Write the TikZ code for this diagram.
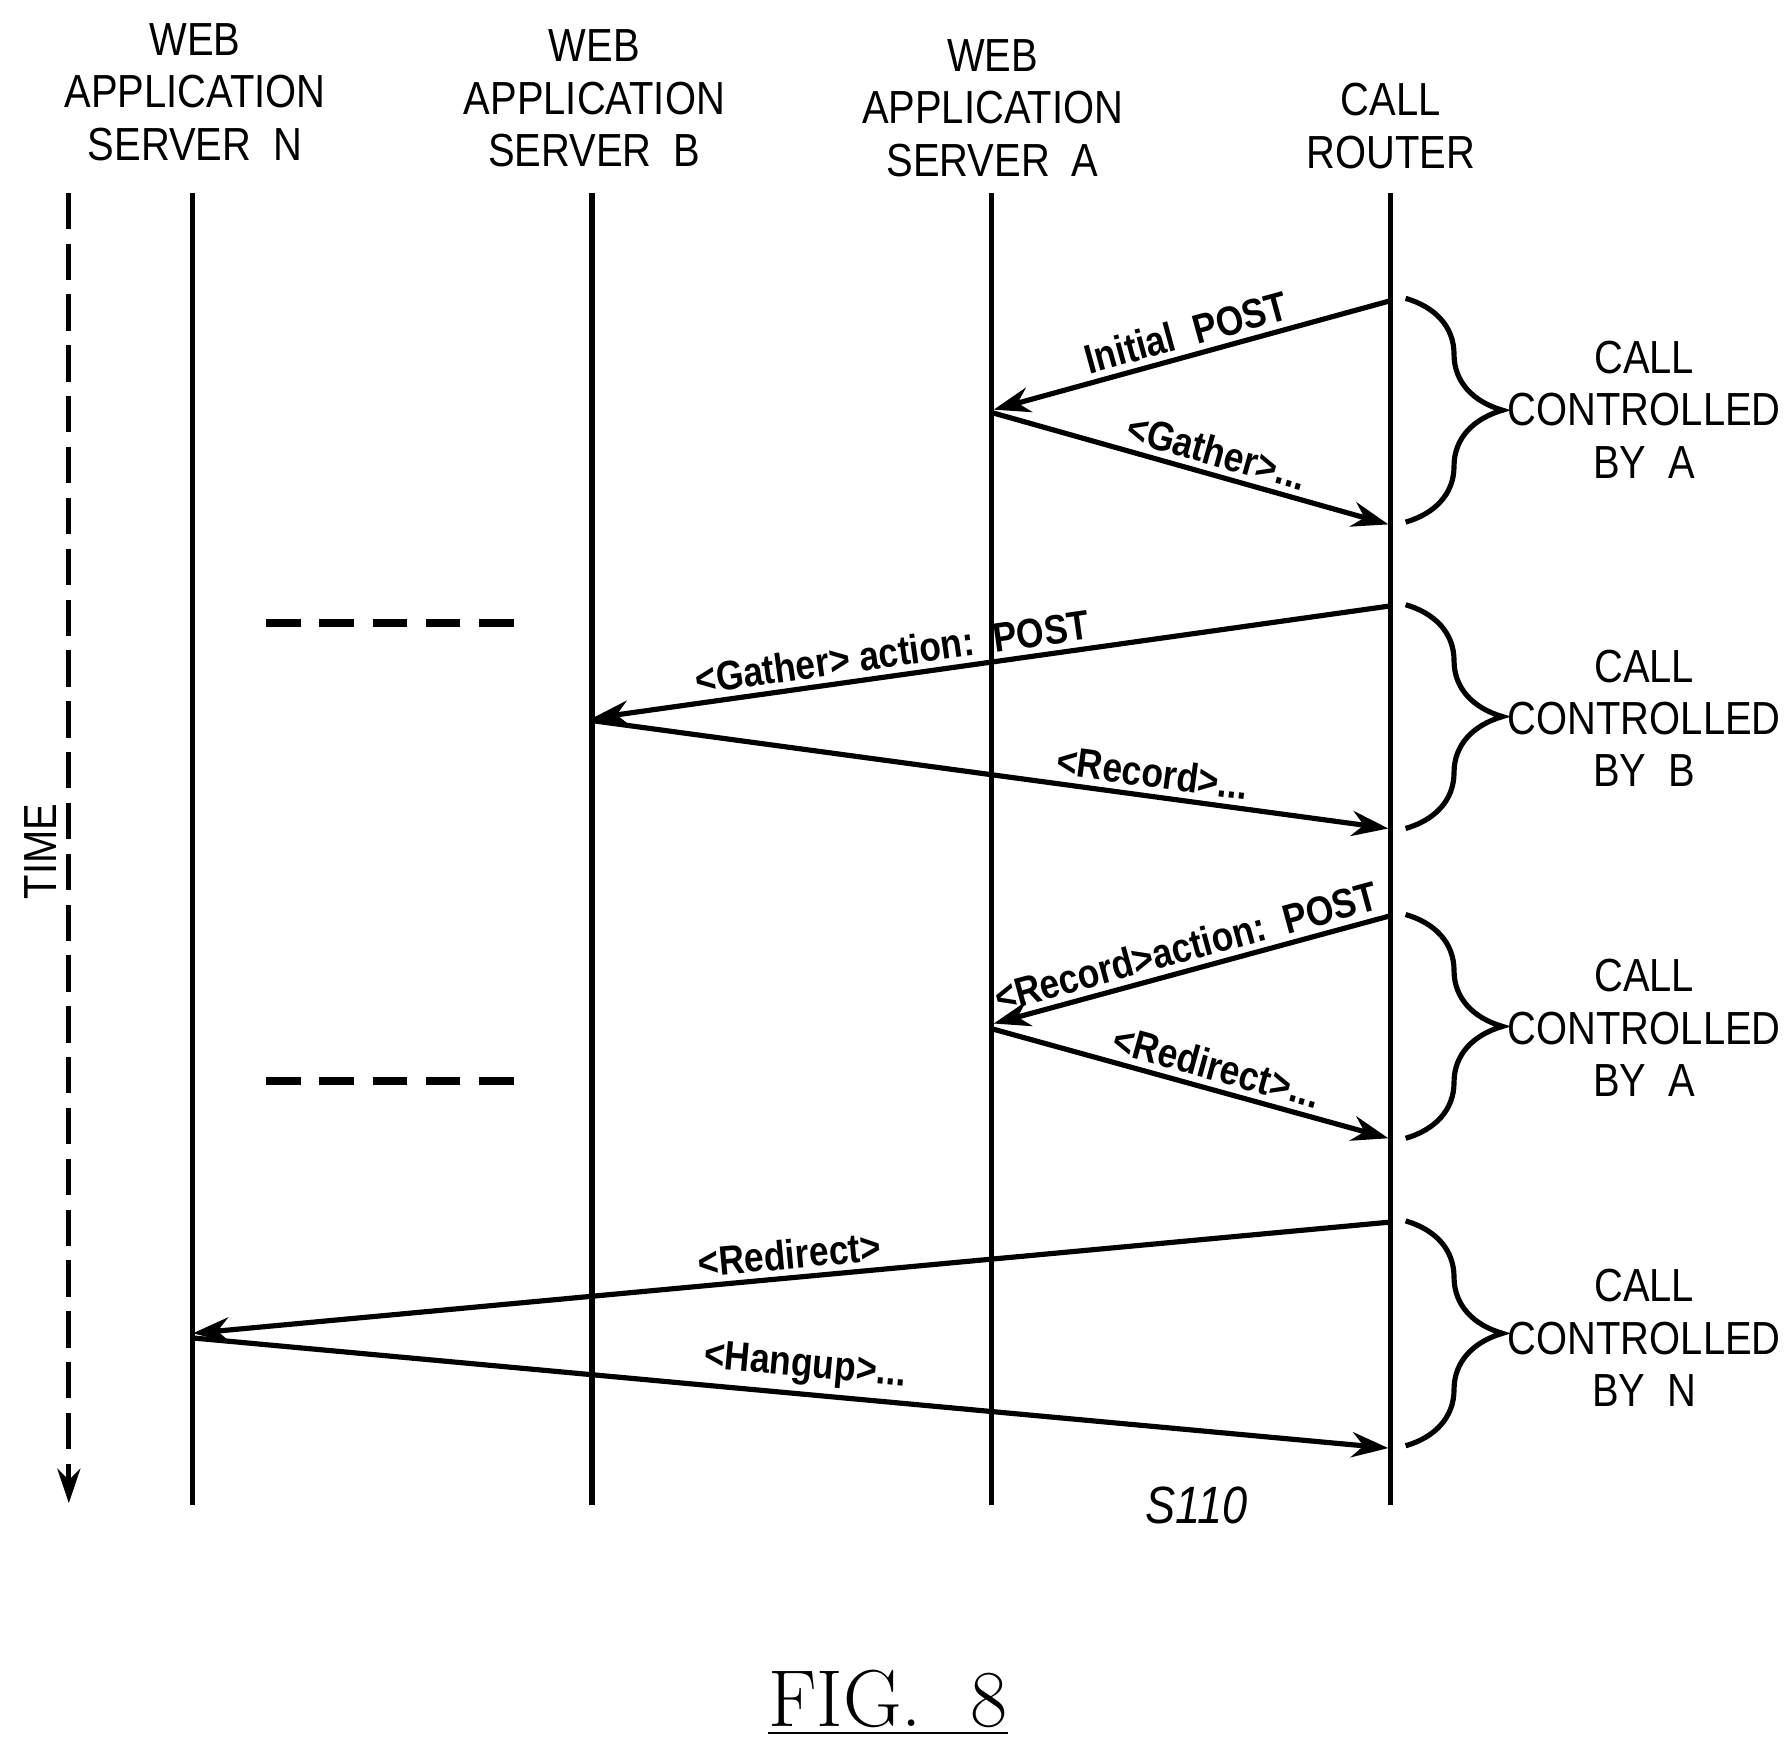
\documentclass[tikz,border=0pt]{standalone}
\usepackage{fontspec}
\setmainfont[FakeStretch=0.86]{Liberation Sans}
\usetikzlibrary{calc,decorations.pathreplacing,arrows.meta}
\tikzset{
    lane/.style={line width=0.45mm, black},
    msg/.style={line width=0.45mm, black, -{Stealth[length=3.2mm,width=2.2mm]}},
    msglabel/.style={sloped, above, inner sep=1.5pt, font=\bfseries\fontsize{10.2}{12}\selectfont},
    head/.style={align=center, font=\fontsize{11.5}{13}\selectfont},
    brc/.style={line width=0.45mm, decorate, decoration={brace, amplitude=24pt, aspect=0.5}},
}
\begin{document}
\begin{tikzpicture}[x=0.01cm, y=-0.01cm]
        \useasboundingbox (0,0) rectangle (1560,1526);
        % lifelines
        \coordinate (nTop) at (168,168);  \coordinate (nBot) at (168,1312);
        \coordinate (bTop) at (516,168);  \coordinate (bBot) at (516,1312);
        \coordinate (aTop) at (864,168);  \coordinate (aBot) at (864,1312);
        \coordinate (rTop) at (1212,168); \coordinate (rBot) at (1212,1312);
        \draw[lane] (nTop) -- (nBot);
        \draw[lane] (bTop) -- (bBot);
        \draw[lane] (aTop) -- (aBot);
        \draw[lane] (rTop) -- (rBot);
        % time axis
        \coordinate (tTop) at (60,168);
        \coordinate (tBot) at (60,1310);
        \draw[line width=0.45mm, dash pattern=on 9pt off 3.6pt, -{Stealth[length=3mm,width=2mm]}] (tTop) -- (tBot);
        \node[rotate=90, fill=white, inner sep=1pt, font=\fontsize{11.5}{13}\selectfont] (time) at (35,742) {TIME};
        % headers
        \node[head] (hN) at (170,80) {WEB\\APPLICATION\\SERVER\ \ N};
        \node[head] (hB) at (518,86) {WEB\\APPLICATION\\SERVER\ \ B};
        \node[head] (hA) at (865,94) {WEB\\APPLICATION\\SERVER\ \ A};
        \node[head] (hR) at (1212,110) {CALL\\ROUTER};
        % message end points
        \coordinate (m1s) at (1212,262);  \coordinate (m1e) at (866,357);
        \coordinate (m2s) at (866,360);   \coordinate (m2e) at (1210,457);
        \coordinate (m3s) at (1212,528);  \coordinate (m3e) at (516,626);
        \coordinate (m4s) at (516,628);   \coordinate (m4e) at (1210,722);
        \coordinate (m5s) at (1212,798);  \coordinate (m5e) at (866,892);
        \coordinate (m6s) at (866,897);   \coordinate (m6e) at (1210,992);
        \coordinate (m7s) at (1212,1065); \coordinate (m7e) at (168,1162);
        \coordinate (m8s) at (168,1166);  \coordinate (m8e) at (1210,1262);
        % messages
        \draw[msg] (m1s) -- node[msglabel, pos=0.5] {Initial\ \ POST} (m1e);
        \draw[msg] (m2s) -- node[msglabel, pos=0.55] {<Gather>...} (m2e);
        \draw[msg] (m3s) -- node[msglabel, pos=0.62] {<Gather> action:\ \ POST} (m3e);
        \draw[msg] (m4s) -- node[msglabel, pos=0.7] {<Record>...} (m4e);
        \draw[msg] (m5s) -- node[msglabel, pos=0.5] {<Record>action:\ \ POST} (m5e);
        \draw[msg] (m6s) -- node[msglabel, pos=0.55] {<Redirect>...} (m6e);
        \draw[msg] (m7s) -- node[msglabel, pos=0.5] {<Redirect>} (m7e);
        \draw[msg] (m8s) -- node[msglabel, pos=0.51] {<Hangup>...} (m8e);
        % idle dashes
        \draw[line width=0.7mm, dash pattern=on 8.5pt off 4.7pt] (232,543) -- (462,543);
        \draw[line width=0.7mm, dash pattern=on 8.5pt off 4.7pt] (232,942) -- (462,942);
        % braces
        \draw[brc] (1225,260) -- (1225,455);
        \draw[brc] (1225,527) -- (1225,722);
        \draw[brc] (1225,797) -- (1225,992);
        \draw[brc] (1225,1064) -- (1225,1260);
        \node[head] (c1) at (1433,357) {CALL\\CONTROLLED\\BY\ \ A};
        \node[head] (c2) at (1433,626) {CALL\\CONTROLLED\\BY\ \ B};
        \node[head] (c3) at (1433,896) {CALL\\CONTROLLED\\BY\ \ A};
        \node[head] (c4) at (1433,1166) {CALL\\CONTROLLED\\BY\ \ N};
        % step and figure labels
        \node[font=\itshape\fontsize{13}{15}\selectfont] (step) at (1043,1312) {S110};
        \node[font=\fontsize{20}{22}\selectfont] (fig) at (774,1484) {\fontspec{Latin Modern Roman}\underline{FIG.\ \ 8}};
\end{tikzpicture}
\end{document}
